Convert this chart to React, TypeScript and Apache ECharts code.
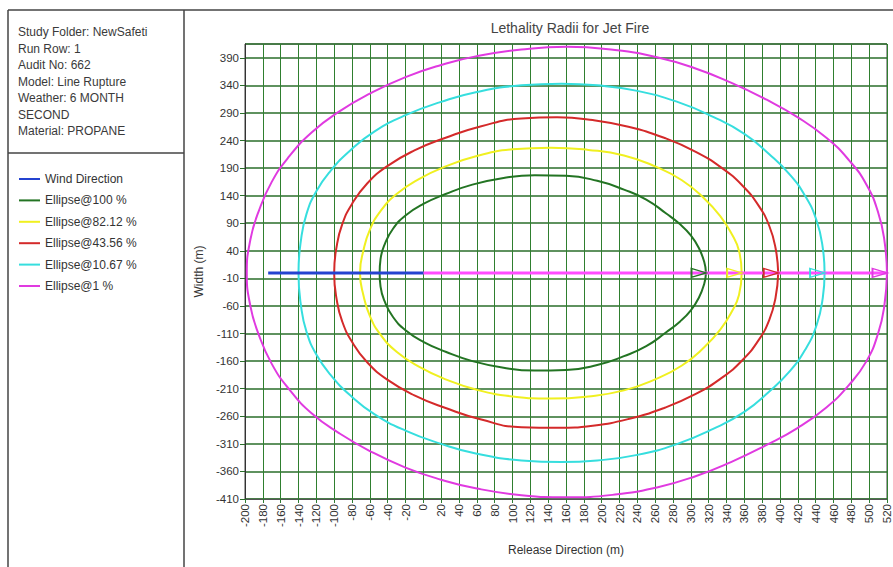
import React, { useEffect, useRef } from 'react';
import * as echarts from 'echarts';

const infoLines = [
  'Study Folder: NewSafeti',
  'Run Row: 1',
  'Audit No: 662',
  'Model: Line Rupture',
  'Weather: 6 MONTH',
  'SECOND',
  'Material: PROPANE',
];

const legendNames = [
  'Wind Direction',
  'Ellipse@100 %',
  'Ellipse@82.12 %',
  'Ellipse@43.56 %',
  'Ellipse@10.67 %',
  'Ellipse@1 %',
];

const seriesColors = ['#2443d0', '#237423', '#f0f020', '#d42a2a', '#36dede', '#e03ae0'];

const windDirection = [[-174, 0], [0, 0]];

const ellipse100 = [
  [317, 0], [315, 20], [309, 45], [300, 68], [288, 88], [272, 108], [250, 133], [225, 151], [195, 167], [160, 176],
  [125, 177], [90, 172], [55, 160], [25, 143], [0, 125], [-20, 104], [-34, 80], [-43, 53], [-48, 25], [-49, 0],
  [-48, -25], [-43, -53], [-34, -80], [-20, -104], [0, -125], [25, -143], [55, -160], [90, -172], [125, -177],
  [160, -176], [195, -167], [225, -151], [250, -133], [272, -108], [288, -88], [300, -68], [309, -45], [315, -20],
  [317, 0],
];

const ellipse82 = [
  [357, 0], [354, 40], [346, 70], [333, 103], [315, 135], [290, 168], [260, 193], [225, 213], [185, 223], [143, 227],
  [100, 224], [60, 212], [25, 193], [-5, 170], [-30, 143], [-48, 112], [-60, 78], [-67, 42], [-71, 0],
  [-67, -42], [-60, -78], [-48, -112], [-30, -143], [-5, -170], [25, -193], [60, -212], [100, -224], [143, -228],
  [185, -224], [225, -213], [260, -193], [290, -168], [315, -135], [333, -103], [346, -70], [354, -40], [357, 0],
];

const ellipse43 = [
  [398, 0], [395, 45], [388, 85], [376, 122], [358, 158], [335, 190], [305, 220], [270, 245], [230, 265], [190, 277],
  [150, 282], [110, 280], [65, 266], [25, 245], [-10, 222], [-40, 194], [-63, 162], [-80, 125], [-91, 88], [-97, 50],
  [-100, 0],
  [-97, -50], [-91, -88], [-80, -125], [-63, -162], [-40, -194], [-10, -222], [25, -245], [65, -266], [110, -280],
  [150, -281], [190, -277], [230, -265], [270, -245], [305, -220], [335, -190], [358, -158], [376, -122], [388, -85],
  [395, -45], [398, 0],
];

const ellipse10 = [
  [450, 0], [448, 45], [441, 95], [428, 140], [410, 180], [388, 215], [360, 252], [325, 283], [285, 310], [240, 330],
  [195, 340], [155, 343], [110, 340], [60, 328], [20, 310], [-20, 286], [-55, 256], [-82, 222], [-104, 185],
  [-120, 148], [-131, 107], [-137, 62], [-140, 0],
  [-137, -62], [-131, -107], [-120, -148], [-104, -185], [-82, -222], [-55, -256], [-20, -286], [20, -310],
  [60, -328], [110, -340], [155, -343], [195, -340], [240, -330], [285, -310], [325, -283], [360, -252], [388, -215],
  [410, -180], [428, -140], [441, -95], [448, -45], [450, 0],
];

const ellipse1 = [
  [520, 0], [517, 60], [510, 110], [497, 160], [477, 205], [452, 245], [420, 282], [385, 314], [345, 345], [303, 372],
  [262, 391], [215, 404], [161, 410], [110, 405], [60, 393], [20, 377], [-20, 355], [-60, 325], [-95, 292],
  [-125, 255], [-150, 212], [-170, 165], [-185, 110], [-194, 60], [-198, 0],
  [-194, -60], [-185, -110], [-170, -165], [-150, -212], [-125, -255], [-95, -290], [-60, -323], [-20, -353],
  [20, -375], [60, -391], [110, -403], [161, -407], [215, -402], [262, -389], [303, -370], [345, -343], [385, -312],
  [420, -281], [452, -244], [477, -204], [497, -160], [510, -110], [517, -60], [520, 0],
];

const ellipses = [ellipse100, ellipse82, ellipse43, ellipse10, ellipse1];
const downwindExtents = [317, 357, 398, 450, 520];

const xMin = -200;
const xMax = 520;
const xStep = 20;
const yMin = -410;
const yMax = 415;
const yStep = 50;

const FONT = 'Liberation Sans, Arial, sans-serif';

export default function App() {
  const ref = useRef<HTMLDivElement>(null);

  useEffect(() => {
    if (!ref.current) return;
    const chart = echarts.init(ref.current, undefined, { renderer: 'svg' });

    const ellipseSeries = ellipses.map((d, i) => ({
      name: legendNames[i + 1],
      type: 'line',
      data: d,
      smooth: 0.5,
      showSymbol: false,
      lineStyle: { color: seriesColors[i + 1], width: 2 },
      itemStyle: { color: seriesColors[i + 1] },
      z: 2,
    }));

    const extentSeries = downwindExtents.map((e, i) => ({
      name: legendNames[i + 1] + ' downwind',
      type: 'line',
      showSymbol: true,
      data: [
        { value: [0, 0], symbol: 'none' },
        {
          value: [e, 0],
          symbol: 'triangle',
          symbolRotate: -90,
          symbolSize: [9, 15],
          symbolOffset: [-7, 0],
          itemStyle: { color: 'rgba(255,255,255,0)', borderColor: seriesColors[i + 1], borderWidth: 1.5 },
        },
      ],
      lineStyle: { color: i === 4 ? '#ff4cff' : seriesColors[i + 1], width: i === 4 ? 3 : 2 },
      itemStyle: { color: seriesColors[i + 1] },
      z: 3,
    }));

    const option = {
      animation: false,
      backgroundColor: '#ffffff',
      textStyle: { fontFamily: FONT },
      title: {
        text: 'Lethality Radii for Jet Fire',
        left: 565,
        textAlign: 'center',
        top: 16,
        textStyle: { fontSize: 14, fontWeight: 'normal', color: '#444', fontFamily: FONT },
      },
      legend: {
        data: legendNames,
        orient: 'vertical',
        left: 14,
        top: 167,
        icon: 'rect',
        itemWidth: 21,
        itemHeight: 2,
        itemGap: 7.4,
        selectedMode: false,
        textStyle: { fontSize: 12, color: '#333', lineHeight: 14, fontFamily: FONT },
      },
      grid: {
        left: 245,
        top: 44,
        right: 5,
        bottom: 68,
        show: true,
        borderColor: '#444',
        borderWidth: 1,
        backgroundColor: '#ffffff',
      },
      xAxis: {
        type: 'value',
        min: xMin,
        max: xMax,
        interval: xStep,
        name: 'Release Direction (m)',
        nameLocation: 'middle',
        nameGap: 45,
        nameTextStyle: { fontSize: 12, color: '#333', fontFamily: FONT },
        axisLine: { show: true, onZero: false, lineStyle: { color: '#555', width: 1 } },
        axisTick: { show: true, length: 4, lineStyle: { color: '#2e7d32' } },
        axisLabel: { rotate: 90, fontSize: 11.5, color: '#333', margin: 5, fontFamily: FONT },
        splitLine: { show: true, lineStyle: { color: '#2f7f2f', width: 1 } },
      },
      yAxis: {
        type: 'value',
        min: yMin,
        max: yMax,
        interval: yStep,
        name: 'Width (m)',
        nameLocation: 'middle',
        nameRotate: 90,
        nameGap: 39,
        nameTextStyle: { fontSize: 12, color: '#333', fontFamily: FONT },
        axisLine: { show: true, onZero: false, lineStyle: { color: '#333', width: 1 } },
        axisTick: { show: true, length: 5, lineStyle: { color: '#2a6e2a' } },
        axisLabel: {
          fontSize: 11.5,
          color: '#333',
          margin: 6,
          fontFamily: FONT,
          showMaxLabel: false,
          formatter: (v: number) => (v > 400 ? '' : String(v)),
        },
        splitLine: { show: true, lineStyle: { color: '#2a6e2a', width: 1.5 } },
      },
      graphic: [
        { type: 'line', shape: { x1: 8, y1: 10, x2: 893, y2: 10 }, style: { stroke: '#444', lineWidth: 1.5 } },
        { type: 'line', shape: { x1: 8, y1: 10, x2: 8, y2: 567 }, style: { stroke: '#444', lineWidth: 1.5 } },
        { type: 'line', shape: { x1: 184, y1: 10, x2: 184, y2: 567 }, style: { stroke: '#444', lineWidth: 1.5 } },
        { type: 'line', shape: { x1: 8, y1: 153, x2: 184, y2: 153 }, style: { stroke: '#444', lineWidth: 1.5 } },
        ...infoLines.map((t, i) => ({
          type: 'text',
          x: 18,
          y: 32 + i * 16.5,
          style: { text: t, fontSize: 12, fill: '#3a3a3a', fontFamily: FONT, verticalAlign: 'middle' },
        })),
      ],
      series: [
        ...ellipseSeries,
        ...extentSeries,
        {
          name: legendNames[0],
          type: 'line',
          data: windDirection,
          showSymbol: false,
          lineStyle: { color: seriesColors[0], width: 3 },
          itemStyle: { color: seriesColors[0] },
          z: 4,
        },
      ],
    };

    chart.setOption(option as any);
    return () => chart.dispose();
  }, []);

  return (
    <div
      ref={ref}
      style={{ position: 'fixed', left: 0, top: 0, width: 893, height: 567, background: '#fff' }}
    />
  );
}
